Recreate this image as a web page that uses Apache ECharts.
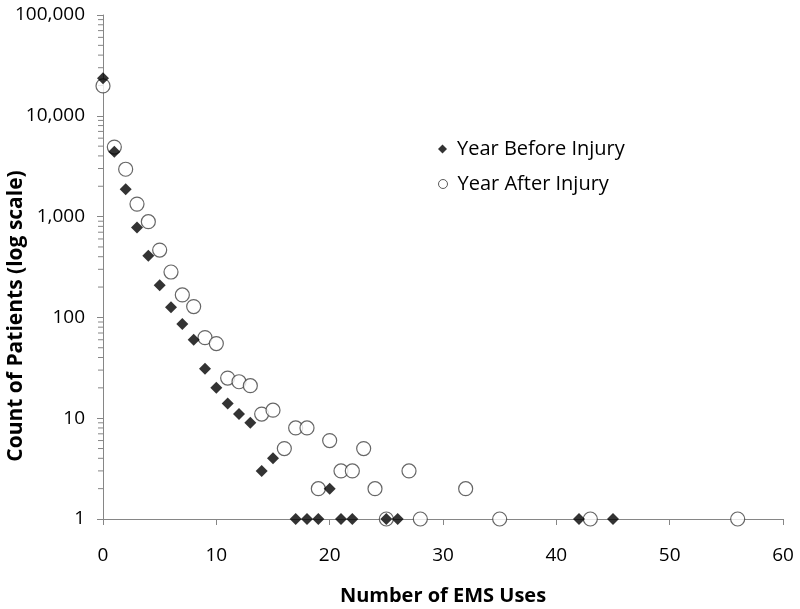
<!DOCTYPE html>
<html>
<head>
<meta charset="utf-8">
<script src="https://cdn.jsdelivr.net/npm/echarts@6/dist/echarts.min.js"></script>
<style>html,body{margin:0;padding:0;background:#fff}#c{width:800px;height:609px}</style>
</head>
<body>
<div id="c"></div>
<script>
var beforeX = [0,1,2,3,4,5,6,7,8,9,10,11,12,13,14,15,17,18,19,20,21,22,25,26,42,45];
var beforeY = [23600,4400,1870,780,410,208,126,86,60,31,20,14,11,9,3,4,1,1,1,2,1,1,1,1,1,1];
var afterX = [0,1,2,3,4,5,6,7,8,9,10,11,12,13,14,15,16,17,18,19,20,21,22,23,24,25,27,28,32,35,43,56];
var afterY = [19800,4900,2950,1330,890,466,282,167,128,63,55,25,23,21,11,12,5,8,8,2,6,3,3,5,2,1,3,1,2,1,1,1];
var seriesNames = ['Year Before Injury', 'Year After Injury'];
var xTitle = 'Number of EMS Uses';
var yTitle = 'Count of Patients (log scale)';
var minorTickValues = [];
[1,10,100,1000,10000].forEach(function(d){ for (var m=2;m<=9;m++) minorTickValues.push(m*d); });

function pairs(xs, ys){ return xs.map(function(x,i){ return [x, ys[i]]; }); }

var FONT = '"Open Sans", "Liberation Sans", sans-serif';
var axisGrey = '#868686';

var chart = echarts.init(document.getElementById('c'), null, {renderer:'canvas'});
chart.setOption({
  animation: false,
  backgroundColor: '#fff',
  textStyle: {fontFamily: FONT},
  grid: {left: 103, right: 17, top: 15, bottom: 90, containLabel: false, outerBoundsMode: 'none'},
  legend: [{
    left: 433, top: 134, orient: 'vertical',
    itemWidth: 9, itemHeight: 9, itemGap: 10,
    textStyle: {fontSize: 20, color: '#000', fontFamily: FONT, padding: [0, 0, 0, 5]},
    data: [{name: seriesNames[0], icon: 'diamond', itemStyle: {color: '#000', borderWidth: 0}}]
  }, {
    left: 433, top: 169, orient: 'vertical',
    itemWidth: 9, itemHeight: 9, itemGap: 10,
    textStyle: {fontSize: 20, color: '#000', fontFamily: FONT, padding: [0, 0, 0, 5]},
    data: [{name: seriesNames[1], icon: 'circle', itemStyle: {color: '#fff', borderColor: '#333', borderWidth: 1}}]
  }],
  xAxis: {
    type: 'value', min: 0, max: 60, interval: 10,
    name: xTitle, nameLocation: 'middle', nameGap: 67, nameMoveOverlap: false,
    nameTextStyle: {fontSize: 20, fontWeight: 'bold', color: '#000', fontFamily: FONT},
    axisLine: {lineStyle: {color: axisGrey, width: 1}},
    axisTick: {show: true, inside: false, length: 6, lineStyle: {color: axisGrey}},
    axisLabel: {fontSize: 19, color: '#000', margin: 27, fontFamily: FONT},
    splitLine: {show: false}
  },
  yAxis: {
    type: 'log', logBase: 10, min: 1, max: 100000,
    name: yTitle, nameLocation: 'middle', nameGap: 76, nameMoveOverlap: false,
    nameTextStyle: {fontSize: 21, fontWeight: 'bold', color: '#000', fontFamily: FONT, padding: [0, 98, 0, 0]},
    axisLine: {show: true, lineStyle: {color: axisGrey, width: 1}},
    axisTick: {show: true, inside: false, length: 6, lineStyle: {color: axisGrey}},
    axisLabel: {fontSize: 19, color: '#000', margin: 18, fontFamily: FONT,
      formatter: function(v){ return Math.round(v).toLocaleString('en-US'); }},
    splitLine: {show: false}
  },
  series: [{
    name: 'minorTicks', type: 'custom', silent: true, clip: false, z: 1,
    data: minorTickValues.map(function(v){ return [0, v]; }),
    renderItem: function(params, api){
      var p = api.coord([0, api.value(1)]);
      return {type: 'line', shape: {x1: p[0]-5, y1: p[1], x2: p[0], y2: p[1]},
        style: {stroke: axisGrey, lineWidth: 1}};
    }
  }, {
    name: seriesNames[1], type: 'scatter', clip: false, z: 3,
    symbol: 'circle', symbolSize: 14,
    itemStyle: {color: '#fff', borderColor: '#404040', borderWidth: 1.2},
    data: pairs(afterX, afterY)
  }, {
    name: seriesNames[0], type: 'scatter', clip: false, z: 4,
    symbol: 'diamond', symbolSize: 12,
    itemStyle: {color: '#000'},
    data: pairs(beforeX, beforeY)
  }]
});
</script>
</body>
</html>
